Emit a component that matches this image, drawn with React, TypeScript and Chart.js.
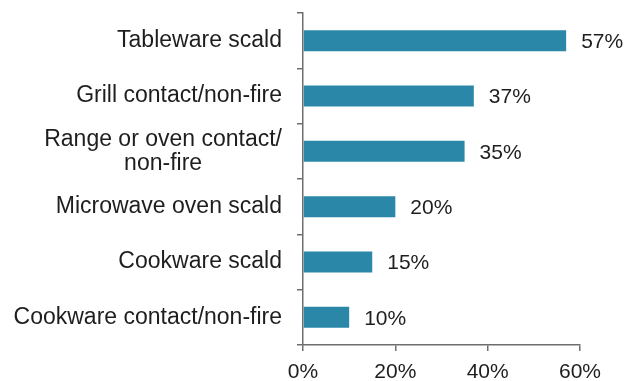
import React, { useEffect, useRef } from "react";
import { Chart, registerables } from "chart.js";

Chart.register(...registerables);

const categories: string[][] = [
  ["Tableware scald"],
  ["Grill contact/non-fire"],
  ["Range or oven contact/", "non-fire"],
  ["Microwave oven scald"],
  ["Cookware scald"],
  ["Cookware contact/non-fire"],
];
const values: number[] = [57, 37, 35, 20, 15, 10];
const xTicks: number[] = [0, 20, 40, 60];

const FONT = "'Liberation Sans', Arial, sans-serif";
const TEXT = "#1e1e1e";
const AXIS = "#6e6e6e";
const BAR = "#2b87a8";

const labelPlugin = {
  id: "customLabels",
  afterDraw(chart: any) {
    const ctx = chart.ctx;
    const y = chart.scales.y;
    const x = chart.scales.x;
    ctx.save();
    ctx.fillStyle = TEXT;
    ctx.textBaseline = "middle";
    // category labels, right-aligned block with lines centered within it
    ctx.font = `23px ${FONT}`;
    const rightEdge = chart.chartArea.left - 21;
    categories.forEach((lines, i) => {
      const cy = y.getPixelForValue(i);
      const maxW = Math.max(...lines.map((l) => ctx.measureText(l).width));
      const cx = rightEdge - maxW / 2;
      const lh = 24;
      ctx.textAlign = "center";
      lines.forEach((l, j) => {
        ctx.fillText(l, cx, cy + (j - (lines.length - 1) / 2) * lh);
      });
    });
    // value labels
    ctx.font = `21px ${FONT}`;
    ctx.textAlign = "left";
    values.forEach((v, i) => {
      const cy = y.getPixelForValue(i);
      const px = x.getPixelForValue(v);
      ctx.fillText(`${v}%`, px + 15, cy + 1.5);
    });
    ctx.restore();
  },
};

export default function App() {
  const ref = useRef<HTMLCanvasElement | null>(null);
  useEffect(() => {
    if (!ref.current) return;
    const chart = new Chart(ref.current, {
      type: "bar",
      data: {
        labels: categories.map((c) => c.join(" ")),
        datasets: [
          {
            data: values,
            backgroundColor: BAR,
            borderWidth: 0,
            barPercentage: 0.38,
            categoryPercentage: 1,
          },
        ],
      },
      options: {
        indexAxis: "y",
        animation: false,
        responsive: false,
        maintainAspectRatio: false,
        layout: { padding: { top: 13, right: 47, left: 0, bottom: 0 } },
        plugins: {
          legend: { display: false },
          tooltip: { enabled: false },
        },
        scales: {
          x: {
            min: 0,
            max: 60,
            afterBuildTicks: (scale: any) => {
              scale.ticks = xTicks.map((v) => ({ value: v }));
            },
            afterFit: (scale: any) => {
              scale.height = 36;
            },
            grid: {
              drawOnChartArea: false,
              drawTicks: true,
              tickLength: 6,
              color: AXIS,
              lineWidth: 1.5,
            },
            border: { color: AXIS, width: 1.5 },
            ticks: {
              color: TEXT,
              font: { family: FONT, size: 21 },
              padding: 9,
              callback: (v: any) => `${v}%`,
              maxRotation: 0,
            },
          },
          y: {
            afterFit: (scale: any) => {
              scale.width = 303;
            },
            grid: {
              offset: true,
              drawOnChartArea: false,
              drawTicks: true,
              tickLength: 6,
              color: AXIS,
              lineWidth: 1.5,
            },
            border: { color: AXIS, width: 1.5 },
            ticks: { display: false },
          },
        },
      },
      plugins: [labelPlugin],
    });
    return () => chart.destroy();
  }, []);
  return (
    <div style={{ position: "fixed", left: 0, top: 0, width: 627, height: 381, background: "#fff" }}>
      <canvas ref={ref} width={627} height={381} style={{ width: 627, height: 381 }} />
    </div>
  );
}
